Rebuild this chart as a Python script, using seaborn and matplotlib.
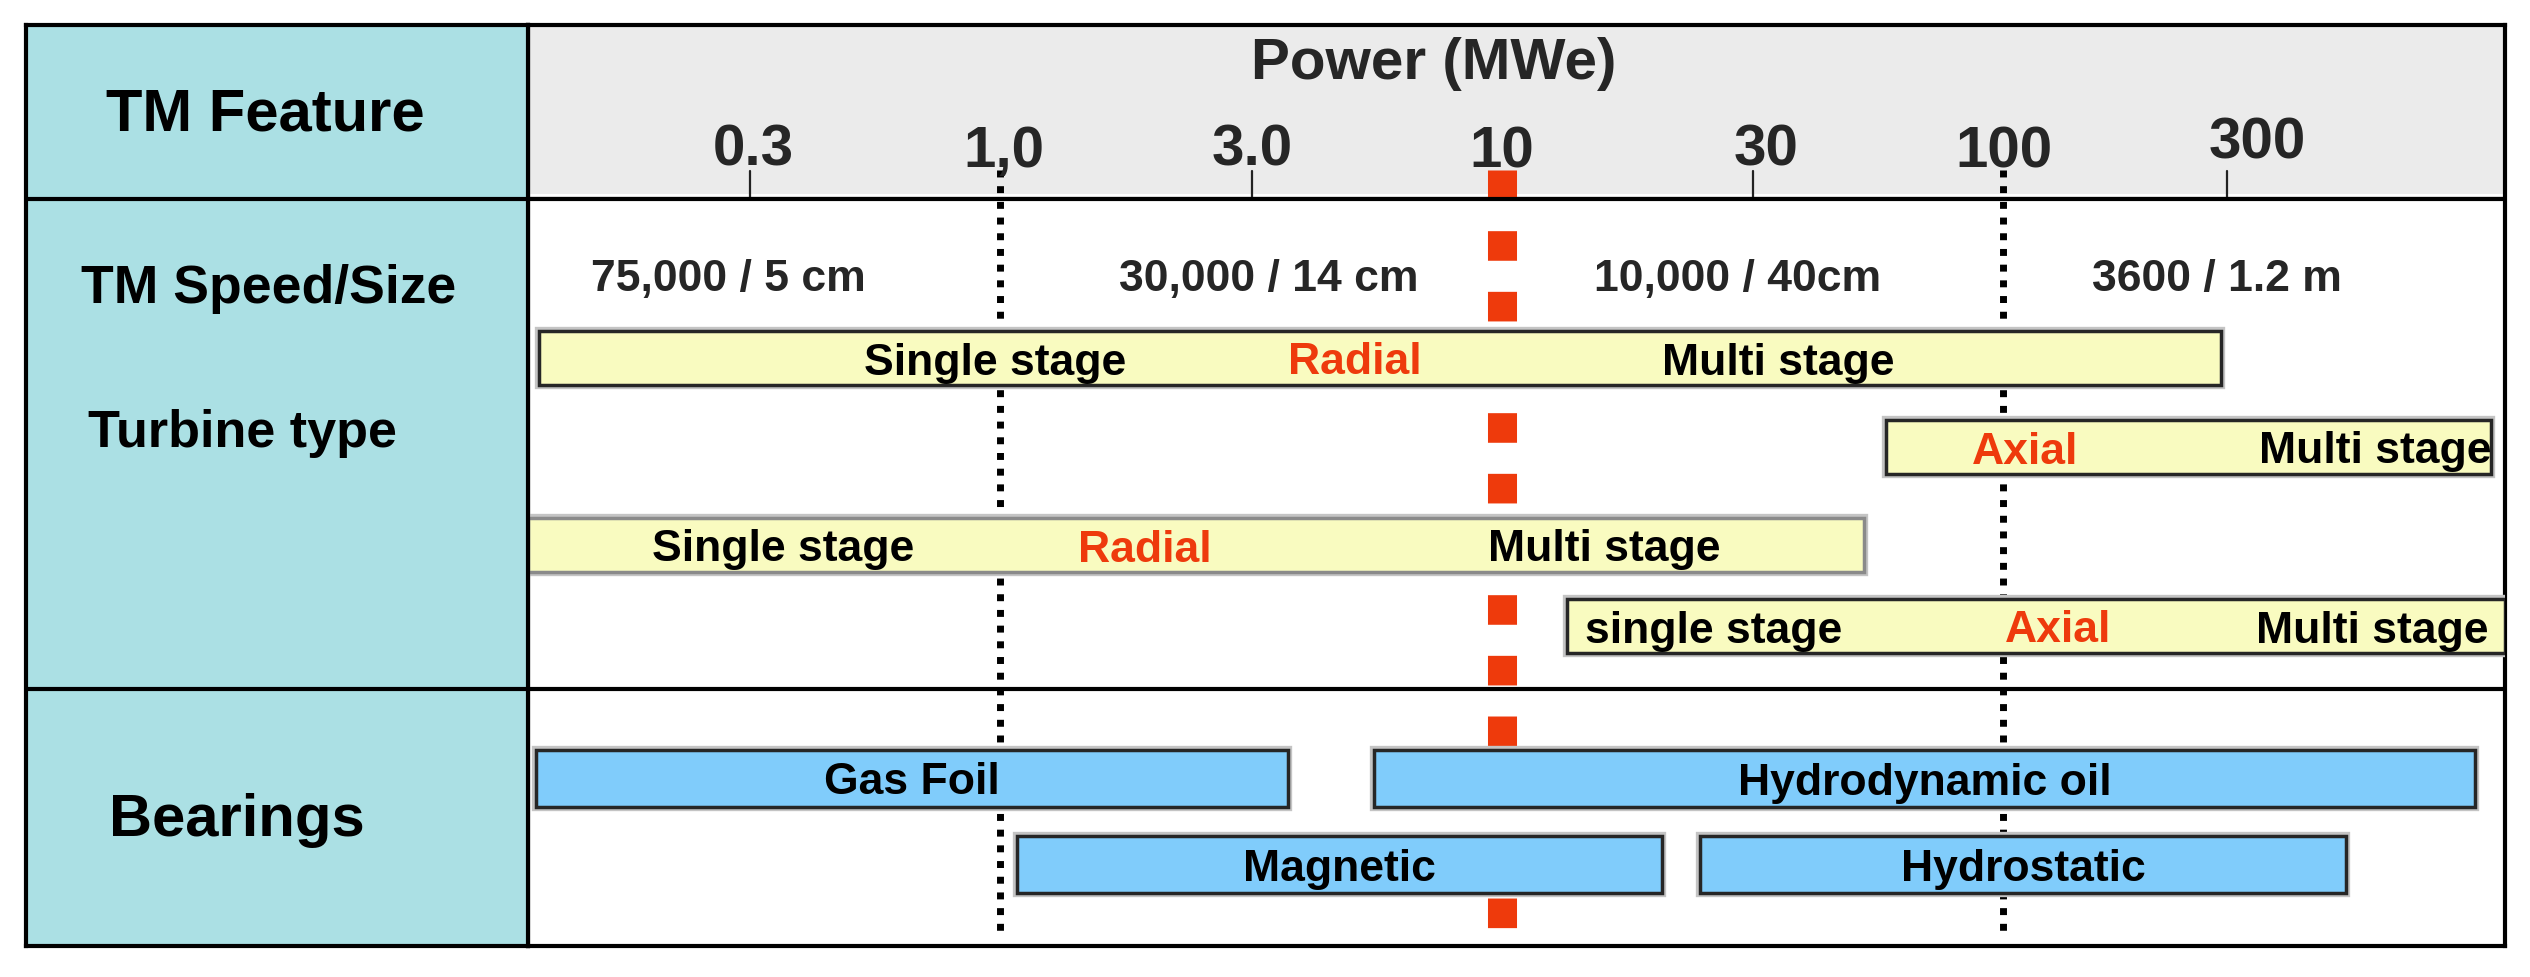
import matplotlib
matplotlib.use("Agg")
import matplotlib.pyplot as plt
import matplotlib.patheffects as pe
from matplotlib.transforms import ScaledTranslation
import numpy as np
import seaborn as sns

# ---------------- data ----------------
power_ticks = [0.3, 1.0, 3.0, 10, 30, 100, 300]
power_tick_labels = ["0.3", "1,0", "3.0", "10", "30", "100", "300"]
power_range = [0.1145, 1002]
axis_title = "Power (MWe)"

feature_labels = ["TM Feature", "TM Speed/Size", "Turbine type", "Bearings"]

speed_labels = ["75,000 / 5 cm", "30,000 / 14 cm", "10,000 / 40cm", "3600 / 1.2 m"]
speed_at = [0.287, 3.43, 29.6, 267]

turbine_start = [0.1205, 58.4, 0.1145, 13.5]
turbine_end = [272, 940, 52.8, 1002]
turbine_texts = [["Single stage", "Radial", "Multi stage"],
                 ["Axial", "Multi stage"],
                 ["Single stage", "Radial", "Multi stage"],
                 ["single stage", "Axial", "Multi stage"]]
turbine_text_at = [[0.977, 5.1, 35.6], [110.6, 552], [0.369, 1.94, 16.0], [26.5, 129, 544]]
turbine_kinds = ["Radial", "Axial"]

bearing_names = ["Gas Foil", "Hydrodynamic oil", "Magnetic", "Hydrostatic"]
bearing_start = [0.119, 5.57, 1.08, 24.9]
bearing_end = [3.75, 873, 20.9, 483]

dotted_at = [1.0, 100]
design_point = 10

# ---------------- style ----------------
sns.set_theme(style="white")
plt.rcParams["font.family"] = ["Liberation Sans", "DejaVu Sans"]
plt.rcParams["font.weight"] = "bold"

CYAN = "#ABE0E4"
GRAY = "#EBEBEB"
YELLOW = "#F9FBC0"
BLUE = "#80CCFB"
RED = "#EE3A0C"
EDGE = "#262626"

W, H = 2530, 977
fig = plt.figure(figsize=(W / 100, H / 100), dpi=100)
fig.patch.set_facecolor("white")

# layout in pixel units of the figure (y measured from top)
top, bottom, col, right, left = 25, 946, 528, 2505, 26
hdr_sep, row_sep = 199, 689

ax = fig.add_axes([col / W, 1 - bottom / H, (right - col) / W, (bottom - top) / H])
axL = fig.add_axes([left / W, 1 - bottom / H, (col - left) / W, (bottom - top) / H])

for a in (ax, axL):
    a.set_ylim(bottom, top)
    a.set_xticks([])
    a.set_yticks([])
    a.grid(False)
    for s in a.spines.values():
        s.set_visible(True)
        s.set_color("black")
        s.set_linewidth(3)
    a.axhline(hdr_sep, color="black", lw=3, zorder=6)
    a.axhline(row_sep, color="black", lw=3, zorder=6)

ax.set_xscale("log")
ax.set_xlim(*power_range)
ax.minorticks_off()
ax.set_xticks([])
ax.set_facecolor("white")
axL.set_xlim(left, col)
axL.set_facecolor(CYAN)

# header band
ax.axhspan(top, hdr_sep, color=GRAY, zorder=0)
ax.axhline(hdr_sep - 4, color="white", lw=1.5, zorder=1)

# left column labels
left_pos = [(265, 115), (269, 289), (242, 433), (237, 820)]
left_size = [43, 38.5, 37.5, 43]
for lab, (xx, yy), fs in zip(feature_labels, left_pos, left_size):
    axL.text(xx, yy, lab, ha="center", va="center", fontsize=fs, fontweight="bold", color="black")

# header: title and power ticks
ax.text(7.33, 64, axis_title, ha="center", va="center", fontsize=42, fontweight="bold")
label_dx = [16, 4, 13, 0, 25, 1, 15]
label_y = [150, 152, 150, 152, 150, 152, 143]
for v, lab, dx, yy in zip(power_ticks, power_tick_labels, label_dx, label_y):
    tr = ax.transData + ScaledTranslation(dx / 100, 0, fig.dpi_scale_trans)
    ax.text(v, yy, lab, ha="center", va="center", fontsize=42, fontweight="bold", transform=tr)
mark_dx = [12, 0, 13, 0, 12, 0, -15]
for v, dx in zip(power_ticks, mark_dx):
    if v in dotted_at or v == design_point:
        continue
    tr = ax.transData + ScaledTranslation(dx / 100, 0, fig.dpi_scale_trans)
    ax.plot([v, v], [171, 197], color="#222222", lw=1.6, transform=tr, zorder=2)

# reference lines
for v in dotted_at:
    ax.plot([v, v], [170, 937], color="black", lw=5, linestyle=(0, (1.0, 1.26)),
            dash_capstyle="butt", zorder=1)
ax.plot([design_point, design_point], [170, 932], color=RED, lw=20.9,
        linestyle=(0, (1.02, 1.07)), dash_capstyle="butt", zorder=1)

# speed/size row
for lab, v in zip(speed_labels, speed_at):
    ax.text(v, 279, lab, ha="center", va="center", fontsize=32, fontweight="bold", zorder=4)

shadow = [pe.Stroke(linewidth=6, foreground="#C4C4C4"), pe.Normal()]

# turbine type bars
turb_y = [358, 447, 545, 626]
turb_h = 54
for i, (s, e) in enumerate(zip(turbine_start, turbine_end)):
    ec = "#8A8A8A" if i == 2 else EDGE
    bars = ax.barh(turb_y[i], e - s, left=s, height=turb_h, color=YELLOW,
                   edgecolor=ec, linewidth=2.5, zorder=3)
    for p in bars:
        p.set_path_effects(shadow)
    for t, v in zip(turbine_texts[i], turbine_text_at[i]):
        ax.text(v, turb_y[i] + 5, t, ha="center", va="center", fontsize=32, fontweight="bold",
                color=RED if t in turbine_kinds else "black", zorder=4)

# bearings bars
bear_y = [778, 778, 864, 864]
bear_h = 57
for name, s, e, yy in zip(bearing_names, bearing_start, bearing_end, bear_y):
    bars = ax.barh(yy, e - s, left=s, height=bear_h, color=BLUE,
                   edgecolor=EDGE, linewidth=2.5, zorder=3)
    for p in bars:
        p.set_path_effects(shadow)
    ax.text(np.sqrt(s * e), yy + 5, name, ha="center", va="center", fontsize=32,
            fontweight="bold", color="black", zorder=4)

fig.savefig("out.png", dpi=100, facecolor="white")
